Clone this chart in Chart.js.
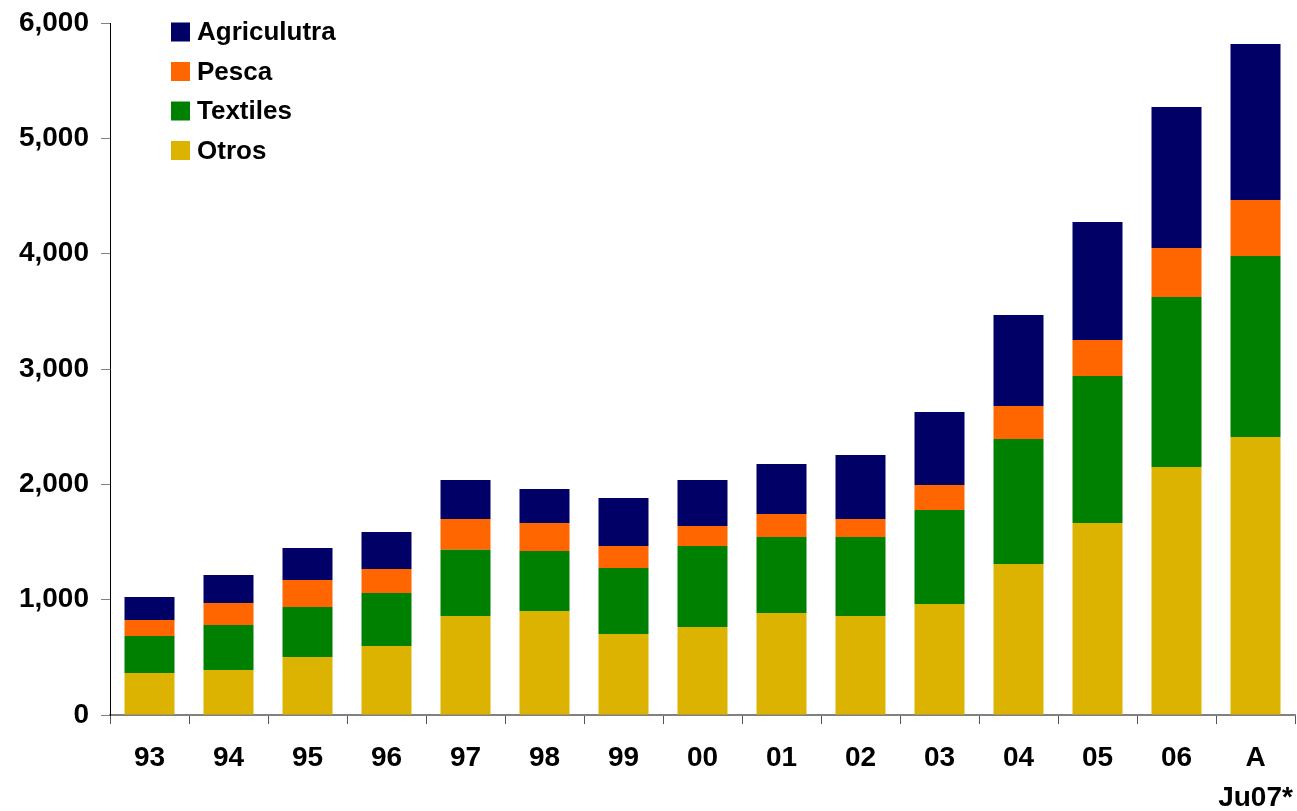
<!DOCTYPE html>
<html>
<head>
<meta charset="utf-8">
<script src="https://cdn.jsdelivr.net/npm/chart.js@4"></script>
<style>
html,body{margin:0;padding:0;background:#fff;}
canvas{display:block;}
</style>
</head>
<body>
<canvas id="c" width="1297" height="811"></canvas>
<script>
const categories = ['93','94','95','96','97','98','99','00','01','02','03','04','05','06',['A','Ju07*']];
const otros      = [364, 390, 503, 598, 858, 902, 702, 763, 884, 858, 962, 1309, 1665, 2150, 2410];
const textiles   = [321, 390, 433, 460, 575, 520, 573, 702, 659, 685, 816, 1084, 1274, 1474, 1570];
const pesca      = [139, 191, 235, 208, 267, 243, 190, 174, 200, 157, 216, 286, 313, 425, 485];
const agricultura= [199, 243, 277, 321, 338, 295, 417, 399, 433, 554, 633, 789, 1023, 1223, 1353];
const yTicks = [0, 1000, 2000, 3000, 4000, 5000, 6000];

const FONT = '"Liberation Sans", Arial, sans-serif';

const legendPlugin = {
  id: 'customLegend',
  afterDraw(chart) {
    const ctx = chart.ctx;
    const ds = chart.data.datasets.slice().reverse();
    ctx.save();
    ctx.font = 'bold 26px ' + FONT;
    ctx.textBaseline = 'middle';
    ctx.textAlign = 'left';
    ds.forEach((d, i) => {
      const cy = 32 + i * 39.5;
      ctx.fillStyle = d.backgroundColor;
      ctx.fillRect(171, cy - 9.5, 19, 19);
      ctx.fillStyle = '#000';
      ctx.fillText(d.label, 197, cy + 1);
    });
    ctx.restore();
  }
};

new Chart(document.getElementById('c'), {
  type: 'bar',
  data: {
    labels: categories,
    datasets: [
      { label: 'Otros', data: otros, backgroundColor: '#DBB300' },
      { label: 'Textiles', data: textiles, backgroundColor: '#008000' },
      { label: 'Pesca', data: pesca, backgroundColor: '#FF6600' },
      { label: 'Agriculutra', data: agricultura, backgroundColor: '#000066' }
    ]
  },
  options: {
    responsive: false,
    animation: false,
    devicePixelRatio: 1,
    layout: { padding: { top: 23, right: 2, left: 0, bottom: 0 } },
    datasets: { bar: { barPercentage: 0.633, categoryPercentage: 1.0, borderWidth: 0 } },
    plugins: { legend: { display: false }, tooltip: { enabled: false } },
    scales: {
      x: {
        stacked: true,
        afterFit(s) { s.height = 96; s.paddingLeft = 0; s.paddingRight = 0; },
        border: { color: '#808080', width: 2 },
        grid: { drawOnChartArea: false, drawTicks: true, tickLength: 9, tickColor: '#555', offset: true },
        ticks: { color: '#000', padding: 15, maxRotation: 0, autoSkip: false,
                 font: { family: FONT, size: 28, weight: 'bold', lineHeight: 1.4 } }
      },
      y: {
        stacked: true,
        min: 0, max: 6000,
        afterFit(s) { s.width = 110; s.paddingTop = 0; s.paddingBottom = 0; },
        afterBuildTicks(s) { s.ticks = yTicks.map(v => ({ value: v })); },
        border: { color: '#000', width: 1 },
        grid: { drawOnChartArea: false, drawTicks: true, tickLength: 9, tickColor: '#808080' },
        ticks: { color: '#000', padding: 12,
                 font: { family: FONT, size: 28, weight: 'bold' },
                 callback: v => Number(v).toLocaleString('en-US') }
      }
    }
  },
  plugins: [legendPlugin]
});
</script>
</body>
</html>
